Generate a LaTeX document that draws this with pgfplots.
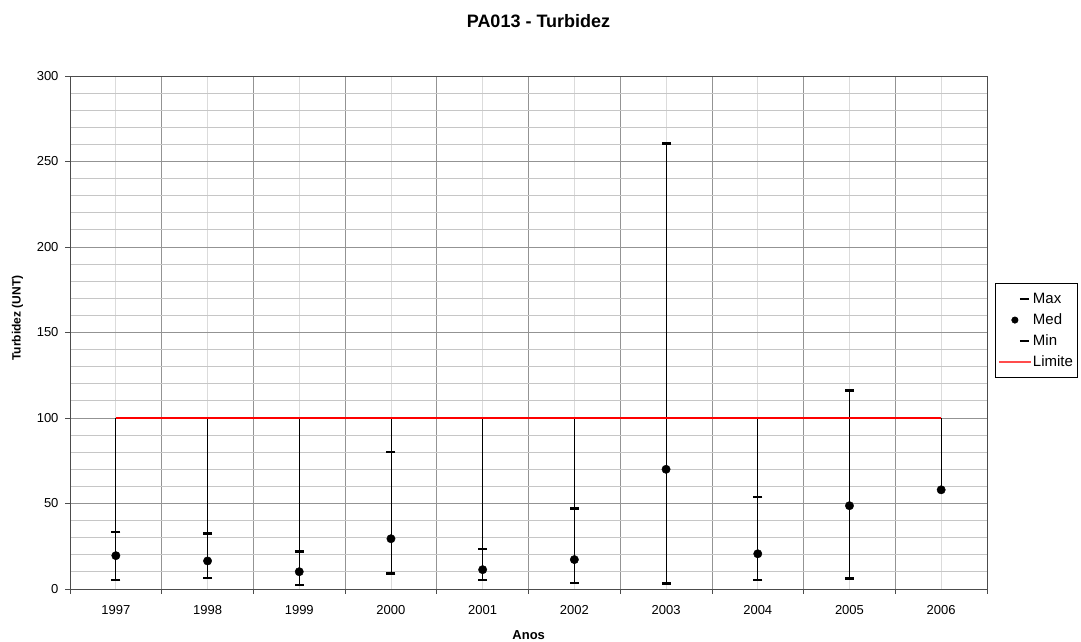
\documentclass[border=0pt]{standalone}
\usepackage{fontspec}
\setmainfont{Liberation Sans}
\usepackage{pgfplots}
\pgfplotsset{compat=1.18}
\begin{document}
\begin{tikzpicture}[font=\fontsize{13}{15}\selectfont]
\useasboundingbox (0,0) rectangle (1081pt,642pt);
\begin{axis}[
  at={(70pt,53pt)}, anchor=south west,
  width=917pt, height=513pt, scale only axis,
  xmin=-0.5, xmax=9.5, ymin=0, ymax=300,
  xtick={0,...,9},
  xticklabels={1997,1998,1999,2000,2001,2002,2003,2004,2005,2006},
  minor xtick={-0.5,0.5,...,9.5},
  ytick={0,50,...,300},
  minor ytick={0,10,...,300},
  tick pos=left,
  grid=both,
  major x grid style={gray!28, line width=0.8pt},
  minor x grid style={gray!85, line width=0.8pt},
  major y grid style={gray!85, line width=0.8pt},
  minor y grid style={gray!45, line width=0.8pt},
  tick align=outside,
  major tick length=5pt, minor tick length=5pt,
  major x tick style={draw=none},
  minor y tick style={draw=none},
  every tick/.style={gray!60!black, line width=0.8pt},
  axis line style={gray!60!black, line width=0.8pt},
  xticklabel shift=8pt,
  yticklabel shift=3pt,
  /pgf/number format/assume math mode=true,
  legend style={at={(1.0087,0.596)}, anchor=north west, draw=black, line width=0.6pt,
    font=\fontsize{15}{17}\selectfont, row sep=4pt, inner xsep=3pt, inner ysep=7pt,
    nodes={text height=11pt, text depth=3pt, inner sep=1.5pt}},
  legend cell align=left,
]
\addplot[black, line width=0.9pt, forget plot, unbounded coords=jump] coordinates {
  (0,5.3) (0,100) (0,nan)
  (1,6.4) (1,100) (1,nan)
  (2,2.3) (2,100) (2,nan)
  (3,9.2) (3,100) (3,nan)
  (4,5.3) (4,100) (4,nan)
  (5,3.5) (5,100) (5,nan)
  (6,3.1) (6,260.6) (6,nan)
  (7,5.3) (7,100) (7,nan)
  (8,6.2) (8,116) (8,nan)
  (9,58) (9,100)
};
\addplot[only marks, mark=-, mark size=4.5pt, mark options={line width=2.6pt, black},
  legend image code/.code={\draw[line width=2.4pt, black] (21pt,0pt) -- (30pt,0pt);}] coordinates {
  (0,33.3) (1,32.5) (2,21.8) (3,80) (4,23.4) (5,47.2) (6,260.6) (7,53.8) (8,116)
};
\addlegendentry{Max}
\addplot[only marks, mark=*, mark size=4.2pt, mark options={black, fill=black},
  legend image code/.code={\fill[black] (16pt,0pt) circle (3.2pt);}] coordinates {
  (0,19.5) (1,16.4) (2,10.1) (3,29.4) (4,11.3) (5,17.2) (6,70) (7,20.6) (8,48.7) (9,58)
};
\addlegendentry{Med}
\addplot[only marks, mark=-, mark size=4.5pt, mark options={line width=2.6pt, black},
  legend image code/.code={\draw[line width=2.4pt, black] (21pt,0pt) -- (30pt,0pt);}] coordinates {
  (0,5.3) (1,6.4) (2,2.3) (3,9.2) (4,5.3) (5,3.5) (6,3.1) (7,5.3) (8,6.2)
};
\addlegendentry{Min}
\addplot[draw=red, line width=1.3pt, mark=none,
  legend image code/.code={\draw[red!70, line width=1.2pt] (0pt,0pt) -- (32pt,0pt);}] coordinates {(0,100) (9,100)};
\addlegendentry{Limite}
\end{axis}
\node[font=\bfseries\fontsize{18}{20}\selectfont, anchor=base] at (538.5pt,614pt) {PA013 - Turbidez};
\node[font=\bfseries\fontsize{13}{15}\selectfont, anchor=base] at (528.7pt,2pt) {Anos};
\node[font=\bfseries\fontsize{12}{14}\selectfont, rotate=90] at (17.5pt,324pt) {Turbidez (UNT)};
\end{tikzpicture}
\end{document}
